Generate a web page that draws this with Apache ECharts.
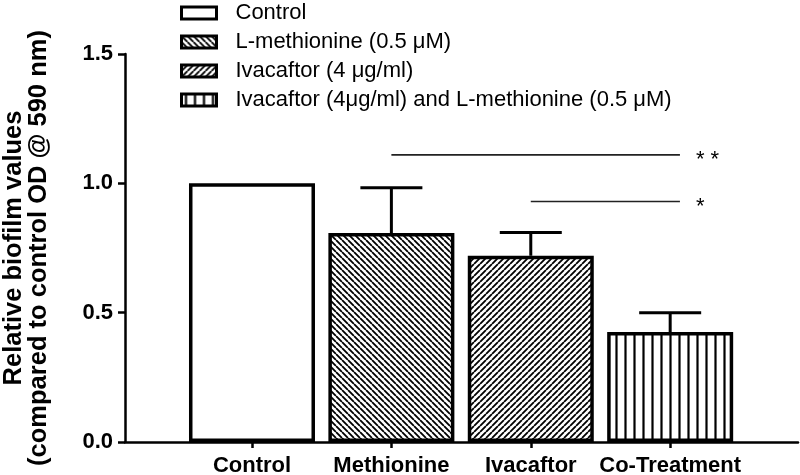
<!DOCTYPE html>
<html>
<head>
<meta charset="utf-8">
<script src="https://cdn.jsdelivr.net/npm/echarts@6/dist/echarts.min.js"></script>
<style>
  html, body { margin: 0; padding: 0; background: #fff; }
  #chart { width: 800px; height: 475px; }
</style>
</head>
<body>
<div id="chart"></div>
<script>
// data
const categories = ["Control", "Methionine", "Ivacaftor", "Co-Treatment"];
const seriesNames = [
  "Control",
  "L-methionine (0.5 μM)",
  "Ivacaftor (4 μg/ml)",
  "Ivacaftor (4μg/ml) and L-methionine (0.5 μM)"
];
const means = [1.0, 0.808, 0.72, 0.425];
const errors = [0, 0.175, 0.09, 0.075];
const yTicks = [0, 0.5, 1.0, 1.5];
// significance brackets: from / to (category position), height, label
const sigFrom = [1, 2];
const sigTo = [3.07, 3.07];
const sigLevel = [1.11, 0.93];
const sigText = ["* *", "*"];

const FONT = "Liberation Sans, Arial, Helvetica, sans-serif";

// fill patterns for the bars
function hatch(kind) {
  const s = kind === "vertical" ? 9 : 6;
  const c = document.createElement("canvas");
  c.width = s;
  c.height = s;
  const g = c.getContext("2d");
  g.fillStyle = "#fff";
  g.fillRect(0, 0, s, s);
  g.strokeStyle = "#000";
  g.lineWidth = kind === "vertical" ? 2.2 : 1.8;
  g.beginPath();
  for (let k = -1; k <= 1; k++) {
    if (kind === "vertical") {
      g.moveTo(s / 2, 0);
      g.lineTo(s / 2, s);
    } else if (kind === "back") {
      g.moveTo(k * s, 0);
      g.lineTo(k * s + s, s);
    } else {
      g.moveTo(k * s, s);
      g.lineTo(k * s + s, 0);
    }
  }
  g.stroke();
  return { image: c, repeat: "repeat" };
}
const fills = ["#fff", hatch("back"), hatch("fwd"), hatch("vertical")];

const chart = echarts.init(document.getElementById("chart"));

const barSeries = seriesNames.map(function(name, i) {
  return {
    type: "bar",
    name: name,
    data: [[i, means[i]]],
    barWidth: 126,
    barGap: "-100%",
    itemStyle: { color: fills[i], borderColor: "#000", borderWidth: 3.5 },
    emphasis: { disabled: true },
    z: 2
  };
});

const errData = means.map(function(m, i) {
  return [i, m, errors[i]];
});
const sigData = sigFrom.map(function(f, i) {
  return [f, sigTo[i], sigLevel[i]];
});

chart.setOption({
  animation: false,
  grid: {
    left: 125,
    right: 2,
    top: 54,
    bottom: 33,
    containLabel: false,
    outerBoundsMode: "none"
  },
  legend: {
    data: seriesNames,
    orient: "vertical",
    left: 180,
    top: 2,
    padding: 0,
    icon: "rect",
    itemWidth: 35,
    itemHeight: 12,
    itemGap: 7,
    selectedMode: false,
    itemStyle: { borderColor: "#000", borderWidth: 3 },
    textStyle: {
      fontFamily: FONT,
      fontSize: 22,
      color: "#000",
      lineHeight: 20,
      padding: [0, 0, 0, 14]
    }
  },
  xAxis: {
    type: "value",
    min: -0.911,
    max: 3.917,
    splitLine: { show: false },
    axisLine: { onZero: false, lineStyle: { color: "#000", width: 2.5 } },
    axisTick: {
      customValues: [0, 1, 2, 3],
      length: 6,
      lineStyle: { color: "#000", width: 2.5 }
    },
    axisLabel: {
      customValues: [0, 1, 2, 3],
      formatter: function(v) {
        return categories[Math.round(v)];
      },
      margin: 13,
      color: "#000",
      fontFamily: FONT,
      fontWeight: "bold",
      fontSize: 22
    }
  },
  yAxis: {
    type: "value",
    min: 0,
    max: 1.5,
    interval: 0.5,
    name: "Relative biofilm values\n(compared to control OD @ 590 nm)",
    nameLocation: "middle",
    nameGap: 74,
    nameTextStyle: {
      fontFamily: FONT,
      fontWeight: "bold",
      fontSize: 25.5,
      lineHeight: 25,
      color: "#000"
    },
    splitLine: { show: false },
    axisLine: { show: true, onZero: false, lineStyle: { color: "#000", width: 2.5 } },
    axisTick: { show: true, length: 7, lineStyle: { color: "#000", width: 2.5 } },
    axisLabel: {
      margin: 12,
      color: "#000",
      fontFamily: FONT,
      fontWeight: "bold",
      fontSize: 22,
      formatter: function(v) {
        return yTicks.indexOf(v) > -1 ? v.toFixed(1) : "";
      }
    }
  },
  series: barSeries.concat([
    {
      type: "custom",
      name: "error",
      data: errData,
      encode: { x: 0, y: 1 },
      z: 3,
      silent: true,
      renderItem: function(params, api) {
        const x = api.value(0);
        const m = api.value(1);
        const e = api.value(2);
        if (!e) return null;
        const p0 = api.coord([x, m]);
        const p1 = api.coord([x, m + e]);
        const st = { stroke: "#000", lineWidth: 3 };
        return {
          type: "group",
          children: [
            { type: "line", shape: { x1: p0[0], y1: p0[1], x2: p1[0], y2: p1[1] }, style: st },
            { type: "line", shape: { x1: p1[0] - 31, y1: p1[1], x2: p1[0] + 31, y2: p1[1] }, style: st }
          ]
        };
      }
    },
    {
      type: "custom",
      name: "significance",
      data: sigData,
      encode: { x: [0, 1], y: 2 },
      z: 3,
      silent: true,
      renderItem: function(params, api) {
        const p0 = api.coord([api.value(0), api.value(2)]);
        const p1 = api.coord([api.value(1), api.value(2)]);
        return {
          type: "group",
          children: [
            {
              type: "line",
              shape: { x1: p0[0], y1: p0[1], x2: p1[0], y2: p1[1] },
              style: { stroke: "#222", lineWidth: 1.6 }
            },
            {
              type: "text",
              x: p1[0] + 16,
              y: p1[1] + 5,
              style: {
                text: sigText[params.dataIndex],
                fill: "#000",
                font: "22px " + FONT,
                textAlign: "left",
                textVerticalAlign: "middle"
              }
            }
          ]
        };
      }
    }
  ])
});
</script>
</body>
</html>
